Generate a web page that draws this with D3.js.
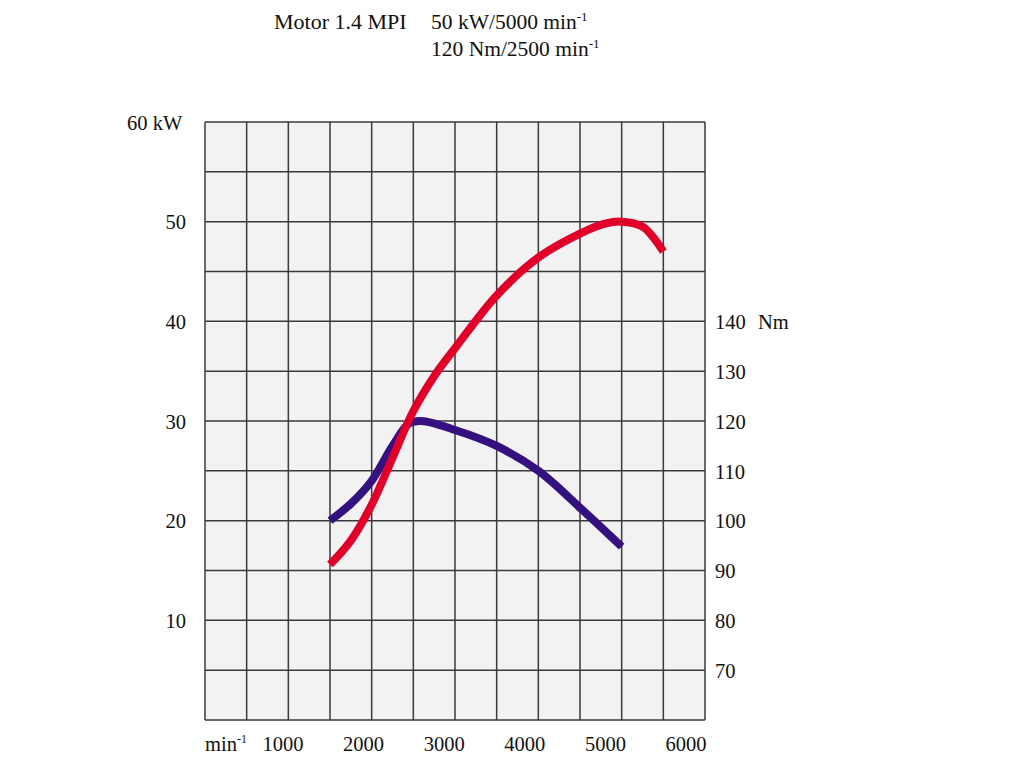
<!DOCTYPE html>
<html><head><meta charset="utf-8">
<script src="https://cdn.jsdelivr.net/npm/d3@7"></script>
<style>body{margin:0;background:#fff}svg{display:block}text{font-family:"Liberation Serif","Times New Roman",serif;fill:#111}</style>
</head><body><svg id="c" width="1024" height="768"></svg>
<script>
const rpmTicks=[1000,2000,3000,4000,5000,6000];
const kwTicks=[10,20,30,40,50];
const nmTicks=[70,80,90,100,110,120,130,140];
const powerRpm=[1500,1750,2000,2250,2500,2750,3000,3500,4000,4500,4800,5000,5250,5500];
const powerKw=[15.6,18.0,21.6,26.3,31,34.5,37.3,42.6,46.4,48.8,49.8,50,49.5,47];
const torqueRpm=[1500,1750,2000,2250,2450,2600,3000,3500,4000,4500,5000];
const torqueNm=[100,103.4,108,115,119.5,120,118.2,115,110,102.6,94.8];

const svg=d3.select("#c");
const L=205,R=705,T=122,B=720;
const x=d3.scaleLinear().domain([0,6000]).range([L,R]);
const yk=d3.scaleLinear().domain([0,60]).range([B,T]);
const yn=d3.scaleLinear().domain([60,180]).range([B,T]);
const xl=d3.scaleLinear().domain([1000,6000]).range([283,686]);

svg.append("rect").attr("x",L).attr("y",T).attr("width",R-L).attr("height",B-T).attr("fill","#f2f2f2");
const g=svg.append("g").attr("stroke","#3a3a3a").attr("stroke-width",1.5);
d3.range(0,6001,500).forEach(v=>g.append("line").attr("x1",x(v)).attr("x2",x(v)).attr("y1",T).attr("y2",B));
d3.range(0,61,5).forEach(v=>g.append("line").attr("x1",L).attr("x2",R).attr("y1",yk(v)).attr("y2",yk(v)));

const fs=20.5;
kwTicks.forEach(v=>svg.append("text").attr("x",186).attr("y",yk(v)).attr("dy","0.38em").attr("text-anchor","end").attr("font-size",fs).text(v));
svg.append("text").attr("x",127).attr("y",yk(60)).attr("dy","0.38em").attr("font-size",fs).text("60 kW");
nmTicks.forEach(v=>svg.append("text").attr("x",715).attr("y",yn(v)).attr("dy","0.38em").attr("font-size",fs).text(v));
svg.append("text").attr("x",758).attr("y",yn(140)).attr("dy","0.38em").attr("font-size",fs).text("Nm");
rpmTicks.forEach(v=>svg.append("text").attr("x",xl(v)).attr("y",751).attr("text-anchor","middle").attr("font-size",fs).text(v));
const mt=svg.append("text").attr("x",205).attr("y",751).attr("font-size",fs);
mt.append("tspan").text("min");
mt.append("tspan").attr("dy",-8).attr("font-size",12).text("-1");

svg.append("text").attr("x",274).attr("y",29).attr("font-size",22).text("Motor 1.4 MPI");
const t1=svg.append("text").attr("x",431).attr("y",29).attr("font-size",21.5);
t1.append("tspan").text("50 kW/5000 min");t1.append("tspan").attr("dy",-8).attr("font-size",13).text("-1");
const t2=svg.append("text").attr("x",431).attr("y",56).attr("font-size",21.5);
t2.append("tspan").text("120 Nm/2500 min");t2.append("tspan").attr("dy",-8).attr("font-size",13).text("-1");

const tq=torqueRpm.map((r,i)=>[r,torqueNm[i]]);
const pw=powerRpm.map((r,i)=>[r,powerKw[i]]);
svg.append("path").attr("d",d3.line().x(d=>x(d[0])).y(d=>yn(d[1])).curve(d3.curveCatmullRom.alpha(0.5))(tq))
 .attr("fill","none").attr("stroke","#35107f").attr("stroke-width",8);
svg.append("path").attr("d",d3.line().x(d=>x(d[0])).y(d=>yk(d[1])).curve(d3.curveCatmullRom.alpha(0.5))(pw))
 .attr("fill","none").attr("stroke","#e0002a").attr("stroke-width",8);
</script></body></html>
